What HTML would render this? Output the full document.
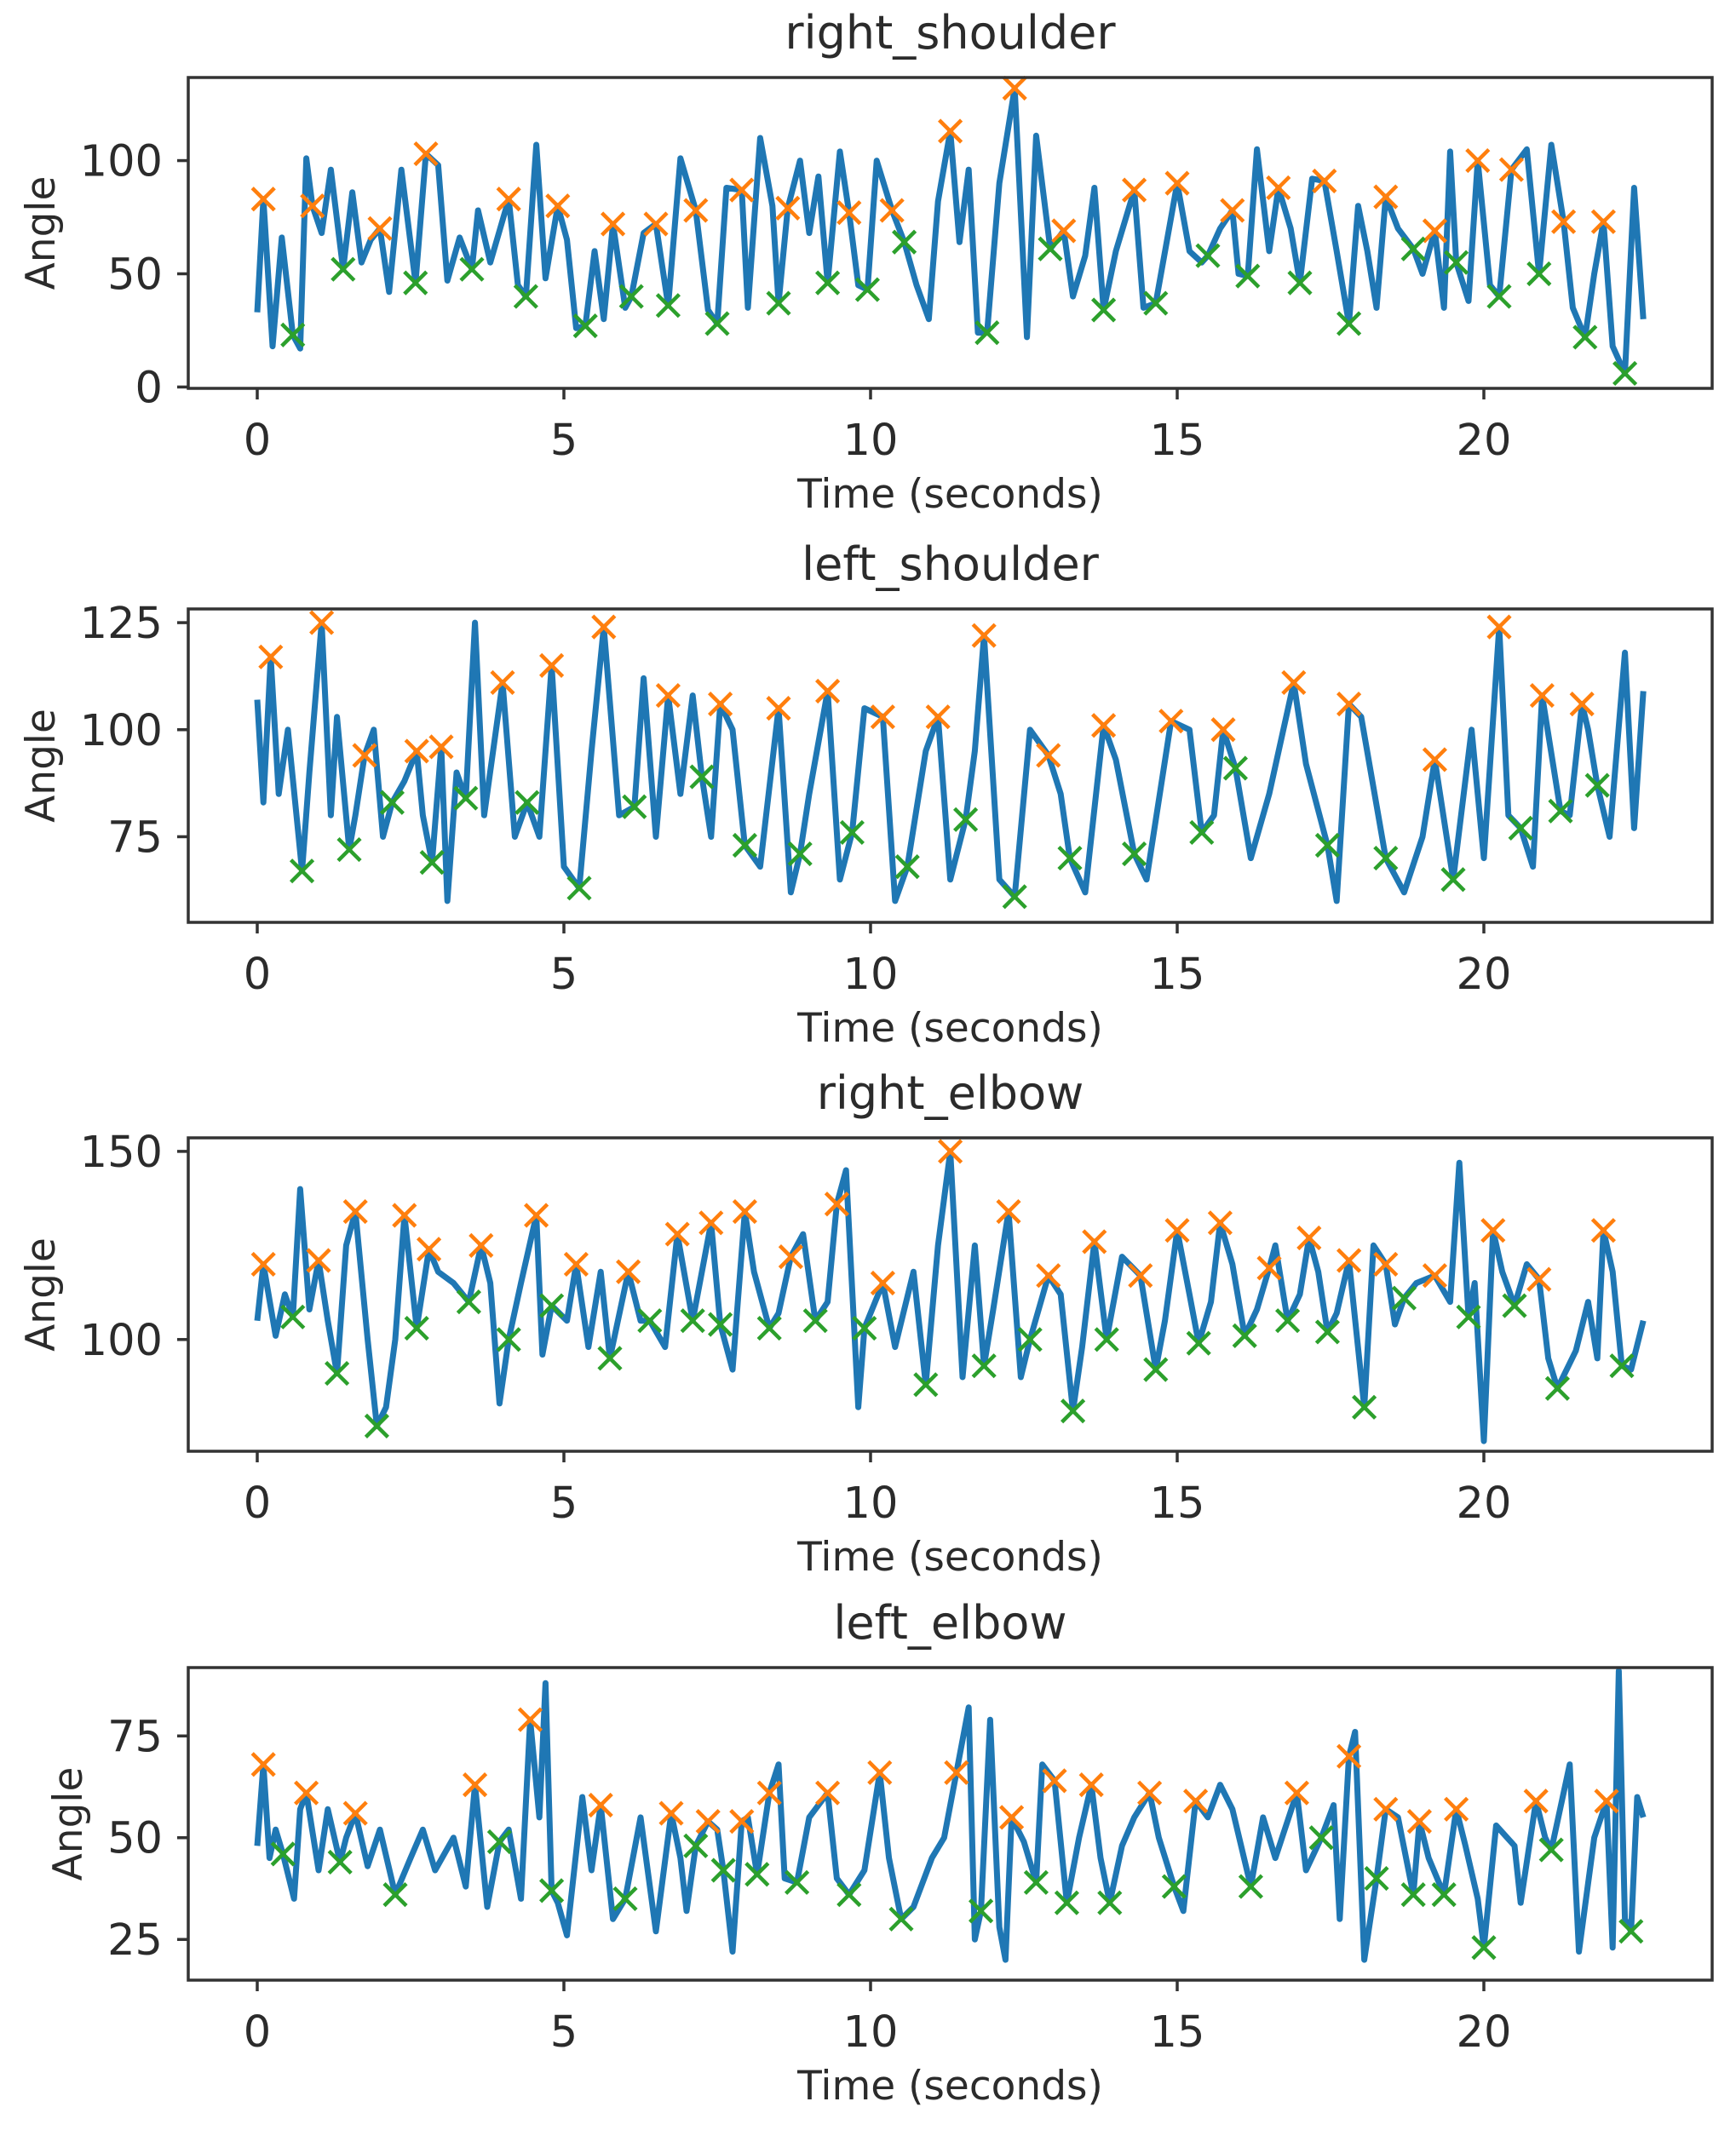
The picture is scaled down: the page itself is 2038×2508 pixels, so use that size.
<!DOCTYPE html>
<html><head><meta charset="utf-8">
<style>
html,body{margin:0;padding:0;background:#fff;}
svg text{font-family:"DejaVu Sans","Liberation Sans",sans-serif;fill:#2b2b2b;}
</style></head>
<body>
<svg id="fig" width="2038" height="2503" viewBox="0 0 2038 2503" xmlns="http://www.w3.org/2000/svg"></svg>
<script>
// ---------- data ----------
const panelTitles = ["right_shoulder","left_shoulder","right_elbow","left_elbow"];
const xTicks = [0,5,10,15,20];
const yTicks1 = [0,50,100];
const yTicks2 = [75,100,125];
const yTicks3 = [100,150];
const yTicks4 = [25,50,75];

const peaks1 = [[0.1,83],[0.9,80],[2.0,70],[2.75,103],[4.1,83],[4.9,80],[5.8,72],[6.5,72],[7.15,78],[7.9,87],[8.65,79],[9.65,77],[10.35,78],[11.3,113],[12.35,132],[13.15,69],[14.3,87],[15.0,90],[15.9,78],[16.65,88],[17.4,91],[18.4,84],[19.2,69],[19.9,100],[20.45,96],[21.3,73],[21.95,73]];
const troughs1 = [[0.58,23],[1.4,52],[2.58,46],[3.5,52],[4.38,40],[5.35,27],[6.1,40],[6.7,36],[7.5,28],[8.5,37],[9.3,46],[9.95,43],[10.55,64],[11.9,24],[12.93,61],[13.8,34],[14.65,37],[15.5,58],[16.15,49],[17.0,46],[17.8,28],[18.85,61],[19.55,55],[20.25,40],[20.9,50],[21.65,22],[22.3,6]];
const extra1 = [[0,33],[0.25,18],[0.4,66],[0.7,17],[0.8,101],[1.05,68],[1.2,96],[1.55,86],[1.7,55],[1.85,65],[2.15,42],[2.35,96],[2.95,98],[3.1,47],[3.3,66],[3.6,78],[3.8,55],[4.25,45],[4.55,107],[4.7,48],[5.05,65],[5.2,26],[5.5,60],[5.65,30],[6.0,35],[6.3,68],[6.9,101],[7.35,34],[7.65,88],[8.0,35],[8.2,110],[8.4,80],[8.85,100],[9.0,68],[9.15,93],[9.5,104],[9.8,45],[10.1,100],[10.75,45],[10.95,30],[11.1,82],[11.45,64],[11.6,96],[11.75,24],[12.1,90],[12.55,22],[12.7,111],[13.3,40],[13.5,58],[13.65,88],[14.0,60],[14.45,35],[15.2,60],[15.4,55],[15.7,70],[16.0,50],[16.3,105],[16.5,60],[16.85,70],[17.2,92],[17.6,60],[17.95,80],[18.1,60],[18.25,35],[18.6,70],[19.0,50],[19.35,35],[19.45,104],[19.75,38],[20.1,45],[20.7,105],[21.1,107],[21.45,35],[21.8,50],[22.1,18],[22.45,88],[22.6,30]];

const peaks2 = [[0.22,117],[1.05,125],[1.75,94],[2.6,95],[3.0,96],[4.0,111],[4.8,115],[5.65,124],[6.7,108],[7.55,106],[8.5,105],[9.3,109],[10.2,103],[11.1,103],[11.85,122],[12.9,94],[13.8,101],[14.9,102],[15.75,100],[16.9,111],[17.8,106],[19.2,93],[20.25,124],[20.95,108],[21.6,106]];
const troughs2 = [[0.73,67],[1.5,72],[2.2,83],[2.85,69],[3.4,84],[4.4,83],[5.25,63],[6.15,82],[7.25,89],[7.95,73],[8.85,71],[9.7,76],[10.6,68],[11.55,79],[12.35,61],[13.25,70],[14.3,71],[15.4,76],[15.95,91],[17.45,73],[18.4,70],[19.5,65],[20.6,77],[21.25,81],[21.85,87]];
const extra2 = [[0,107],[0.1,83],[0.35,85],[0.5,100],[0.85,90],[1.2,80],[1.3,103],[1.6,80],[1.9,100],[2.05,75],[2.4,88],[2.7,80],[3.1,60],[3.25,90],[3.55,125],[3.7,80],[4.2,75],[4.6,75],[5.0,68],[5.45,95],[5.9,80],[6.3,112],[6.5,75],[6.9,85],[7.1,108],[7.4,75],[7.75,100],[8.2,68],[8.7,62],[9.0,85],[9.5,65],[9.9,105],[10.4,60],[10.9,95],[11.3,65],[11.7,95],[12.1,65],[12.6,100],[13.1,85],[13.5,62],[14.0,93],[14.5,65],[15.2,100],[15.6,80],[16.2,70],[16.5,85],[17.1,92],[17.6,60],[18.0,103],[18.7,62],[19.0,75],[19.8,100],[20.0,70],[20.4,80],[20.8,68],[21.4,80],[21.7,100],[22.05,75],[22.3,118],[22.45,77],[22.6,109]];

const peaks3 = [[0.1,120],[1.0,121],[1.6,134],[2.4,133],[2.8,124],[3.65,125],[4.55,133],[5.2,120],[6.05,118],[6.85,128],[7.4,131],[7.95,134],[8.7,122],[9.45,136],[10.2,115],[11.3,150],[12.25,134],[12.9,117],[13.65,126],[14.4,117],[15.0,129],[15.7,131],[16.5,119],[17.15,127],[17.8,121],[18.4,120],[19.2,117],[20.15,129],[20.9,116],[21.95,129]];
const troughs3 = [[0.58,106],[1.3,91],[1.95,77],[2.6,103],[3.45,110],[4.1,100],[4.8,109],[5.75,95],[6.4,105],[7.1,105],[7.55,104],[8.35,103],[9.1,105],[9.9,103],[10.9,88],[11.85,93],[12.6,100],[13.3,81],[13.85,100],[14.65,92],[15.35,99],[16.1,101],[16.8,105],[17.45,102],[18.05,82],[18.7,111],[19.75,106],[20.5,109],[21.2,87],[22.25,93]];
const extra3 = [[0,105],[0.3,101],[0.45,112],[0.7,140],[0.85,108],[1.15,105],[1.45,125],[1.8,100],[2.1,82],[2.25,100],[2.95,118],[3.2,115],[3.8,115],[3.95,83],[4.3,115],[4.65,96],[5.05,105],[5.4,98],[5.6,118],[6.25,105],[6.65,98],[7.25,118],[7.75,92],[8.1,118],[8.5,107],[8.9,128],[9.3,110],[9.6,145],[9.8,82],[10.4,98],[10.7,118],[11.1,125],[11.5,90],[11.7,125],[12.0,108],[12.45,90],[13.1,112],[13.45,98],[14.1,122],[14.8,105],[15.2,112],[15.55,110],[15.9,120],[16.3,108],[16.6,125],[17.0,112],[17.3,118],[17.6,107],[18.2,125],[18.55,104],[18.9,115],[19.45,110],[19.6,147],[19.85,115],[20.0,73],[20.3,118],[20.7,120],[21.05,95],[21.5,97],[21.7,110],[21.85,95],[22.1,118],[22.4,92],[22.6,105]];

const peaks4 = [[0.1,68],[0.8,61],[1.6,56],[3.55,63],[4.45,79],[5.6,58],[6.75,56],[7.35,54],[7.9,54],[8.35,61],[9.3,61],[10.15,66],[11.4,66],[12.3,55],[13.0,64],[13.6,63],[14.55,61],[15.3,59],[16.95,61],[17.8,70],[18.4,57],[18.95,54],[19.55,57],[20.85,59],[22.0,59]];
const troughs4 = [[0.42,46],[1.35,44],[2.25,36],[3.95,49],[4.8,37],[6.0,35],[7.15,48],[7.6,42],[8.15,41],[8.8,39],[9.65,36],[10.5,30],[11.8,32],[12.7,39],[13.2,34],[13.9,34],[14.95,38],[16.2,38],[17.35,50],[18.25,40],[18.85,36],[19.35,36],[20.0,23],[21.1,47],[22.4,27]];
const extra4 = [[0,48],[0.2,45],[0.3,52],[0.6,35],[0.7,57],[1.0,42],[1.15,57],[1.45,50],[1.8,43],[2.0,52],[2.5,45],[2.7,52],[2.9,42],[3.2,50],[3.4,38],[3.75,33],[4.1,52],[4.3,35],[4.6,55],[4.7,88],[4.9,34],[5.05,26],[5.3,60],[5.45,42],[5.8,30],[6.25,55],[6.5,27],[6.9,45],[7.0,32],[7.5,52],[7.75,22],[8.0,55],[8.5,68],[8.6,40],[9.0,55],[9.45,40],[9.9,42],[10.3,45],[10.7,33],[11.0,45],[11.2,50],[11.6,82],[11.7,25],[11.95,79],[12.1,28],[12.2,20],[12.5,49],[12.8,68],[13.4,50],[13.75,45],[14.1,48],[14.3,55],[14.7,50],[15.1,32],[15.5,55],[15.7,63],[15.9,57],[16.4,55],[16.6,45],[17.1,42],[17.55,58],[17.65,30],[17.9,76],[18.05,20],[18.6,55],[19.1,45],[19.7,48],[19.9,35],[20.2,53],[20.5,48],[20.6,34],[21.0,50],[21.4,68],[21.55,22],[21.8,50],[22.1,23],[22.2,91],[22.3,30],[22.5,60],[22.6,55]];

// ---------- layout ----------
const NS = "http://www.w3.org/2000/svg";
const svg = document.getElementById('fig');
const AX_L = 221, AX_R = 2010, X0PX = 302, XPER = 72;
const panels = [
  {top:91,  bottom:456,  ymin:-0.6, ymax:136.7, ticks:yTicks1, peaks:peaks1, troughs:troughs1, extra:extra1, ylabX:48},
  {top:715, bottom:1083, ymin:55,   ymax:128.2, ticks:yTicks2, peaks:peaks2, troughs:troughs2, extra:extra2, ylabX:48},
  {top:1336,bottom:1704, ymin:70.3, ymax:153.6, ticks:yTicks3, peaks:peaks3, troughs:troughs3, extra:extra3, ylabX:48},
  {top:1958,bottom:2325, ymin:15,   ymax:91.8,  ticks:yTicks4, peaks:peaks4, troughs:troughs4, extra:extra4, ylabX:80}
];
function mk(tag, attrs, parent){
  const e = document.createElementNS(NS, tag);
  for (const k in attrs) e.setAttribute(k, attrs[k]);
  (parent||svg).appendChild(e);
  return e;
}
const xS = t => X0PX + t*XPER;

panels.forEach((p, i) => {
  const yS = v => p.bottom - (v - p.ymin)/(p.ymax - p.ymin)*(p.bottom - p.top);
  const g = mk('g', {});
  
  

  const title = mk('text', {x:(AX_L+AX_R)/2, y:p.top-34, 'font-size':54, 'text-anchor':'middle'}, g);
  title.textContent = panelTitles[i];
  
  

  const pts = p.extra.concat(p.peaks, p.troughs).sort((a,b)=>a[0]-b[0]);
  const line = mk('polyline', {points: pts.map(d=>xS(d[0]).toFixed(1)+','+yS(d[1]).toFixed(1)).join(' '), fill:'none', stroke:'#1f77b4', 'stroke-width':7, 'stroke-linejoin':'round'}, g);
  
  

  const drawX = (arr, color, nm) => arr.forEach(d => {
    const cx = xS(d[0]), cy = yS(d[1]), r = 13;
    const m = mk('path', {d:`M${cx-r},${cy-r}L${cx+r},${cy+r}M${cx-r},${cy+r}L${cx+r},${cy-r}`, stroke:color, 'stroke-width':4.5, fill:'none'}, g);
    
    
  });
  drawX(p.peaks, '#ff7f0e', 'peak-marker');
  drawX(p.troughs, '#2ca02c', 'trough-marker');

  const frame = mk('rect', {x:AX_L, y:p.top, width:AX_R-AX_L, height:p.bottom-p.top, fill:'none', stroke:'#333', 'stroke-width':3.5}, g);
  
  

  xTicks.forEach(t => {
    mk('line', {x1:xS(t), x2:xS(t), y1:p.bottom, y2:p.bottom+13, stroke:'#333', 'stroke-width':3.5}, g);
    const tl = mk('text', {x:xS(t), y:p.bottom+78, 'font-size':51, 'text-anchor':'middle'}, g);
    tl.textContent = t;
    
    
  });
  p.ticks.forEach(v => {
    mk('line', {x1:AX_L-13, x2:AX_L, y1:yS(v), y2:yS(v), stroke:'#333', 'stroke-width':3.5}, g);
    const tl = mk('text', {x:AX_L-30, y:yS(v)+18, 'font-size':51, 'text-anchor':'end'}, g);
    tl.textContent = v;
    
    
  });
  const xl = mk('text', {x:(AX_L+AX_R)/2, y:p.bottom+140, 'font-size':47, 'text-anchor':'middle'}, g);
  xl.textContent = 'Time (seconds)';
  
  
  const cy = (p.top+p.bottom)/2;
  const yl = mk('text', {x:p.ylabX, y:cy, 'font-size':47, 'text-anchor':'middle', transform:`rotate(-90 ${p.ylabX} ${cy})`, dy:16}, g);
  yl.textContent = 'Angle';
  
  
});
</script>
</body></html>
